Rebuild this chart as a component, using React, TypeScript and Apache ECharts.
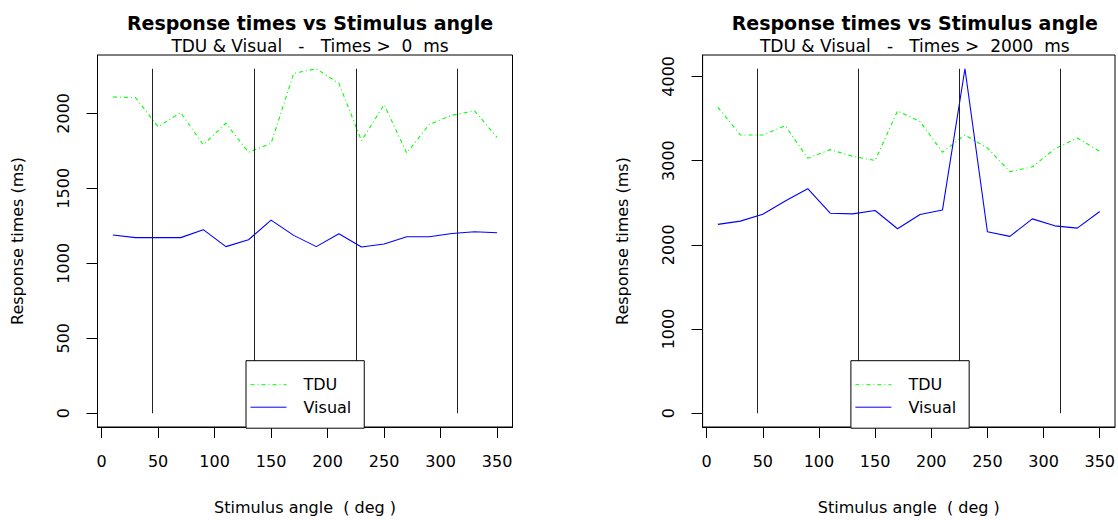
import React, { useEffect, useRef } from "react";
import * as echarts from "echarts";

// ---------- data ----------
const angles = [10, 30, 50, 70, 90, 110, 130, 150, 170, 190, 210, 230, 250, 270, 290, 310, 330, 350];

const tduAll = [2109, 2105, 1910, 2005, 1790, 1934, 1740, 1800, 2266, 2297, 2200, 1817, 2058, 1735, 1926, 1987, 2016, 1839];
const visualAll = [1189, 1171, 1171, 1171, 1224, 1111, 1157, 1288, 1186, 1111, 1197, 1109, 1129, 1177, 1177, 1199, 1210, 1204];

const tduOver2000 = [3634, 3304, 3304, 3414, 3028, 3130, 3051, 3001, 3591, 3464, 3099, 3304, 3150, 2867, 2926, 3138, 3268, 3110];
const visualOver2000 = [2242, 2281, 2363, 2520, 2666, 2375, 2367, 2407, 2190, 2360, 2414, 4090, 2155, 2100, 2308, 2225, 2198, 2395];

const xTicks = [0, 50, 100, 150, 200, 250, 300, 350];
const yTicksAll = [0, 500, 1000, 1500, 2000];
const yTicksOver2000 = [0, 1000, 2000, 3000, 4000];
const guideAngles = [45, 135, 225, 315];

const mainTitle = "Response times vs Stimulus angle";
const subTitles = ["TDU & Visual   -   Times >  0  ms", "TDU & Visual   -   Times >  2000  ms"];
const xName = "Stimulus angle  ( deg )";
const yName = "Response times (ms)";
const seriesNames = ["TDU", "Visual"];

// ---------- layout ----------
const FONT = "DejaVu Sans";
const GRIDS = [
  { left: 97.5, top: 55, width: 415, height: 374 },
  { left: 702.6, top: 55, width: 414.4, height: 374 },
];
const LEGEND_LEFT = [246, 850.9];

function buildOption() {
  const xMinData = Math.min(...angles);
  const xMaxData = Math.max(...angles);
  const xPad = (xMaxData - xMinData) * 0.04;

  const panels = [
    { tdu: tduAll, visual: visualAll, yTicks: yTicksAll, sub: subTitles[0] },
    { tdu: tduOver2000, visual: visualOver2000, yTicks: yTicksOver2000, sub: subTitles[1] },
  ];

  const title: any[] = [];
  const grid: any[] = [];
  const xAxis: any[] = [];
  const yAxis: any[] = [];
  const series: any[] = [];
  const legend: any[] = [];

  panels.forEach((p, i) => {
    const g = GRIDS[i];
    const yMax = Math.max(...p.tdu, ...p.visual);
    const yPad = yMax * 0.04;
    const cx = g.left + g.width / 2;

    title.push({
      text: mainTitle,
      subtext: p.sub,
      left: cx,
      textAlign: "center",
      top: 8,
      itemGap: 5,
      textStyle: { fontFamily: FONT, fontWeight: "bold", fontSize: 19, color: "#000" },
      subtextStyle: { fontFamily: FONT, fontSize: 17, color: "#000" },
    });

    grid.push({
      left: g.left,
      top: g.top,
      width: g.width,
      height: g.height,
      show: true,
      borderColor: "#000",
      borderWidth: 1,
      backgroundColor: "transparent",
      containLabel: false,
    });

    xAxis.push({
      type: "value",
      gridIndex: i,
      min: xMinData - xPad,
      max: xMaxData + xPad,
      axisLine: { show: true, onZero: false, lineStyle: { color: "#000", width: 1 } },
      axisTick: { show: true, length: 11, customValues: xTicks, lineStyle: { color: "#000", width: 1 } },
      axisLabel: {
        customValues: xTicks,
        margin: 26,
        fontFamily: FONT,
        fontSize: 16,
        color: "#000",
        formatter: (v: number) => String(v),
      },
      splitLine: { show: false },
      name: xName,
      nameLocation: "middle",
      nameGap: 72,
      nameTextStyle: { fontFamily: FONT, fontSize: 16, color: "#000" },
    });

    yAxis.push({
      type: "value",
      gridIndex: i,
      min: -yPad,
      max: yMax + yPad,
      axisLine: { show: true, onZero: false, lineStyle: { color: "#000", width: 1 } },
      axisTick: { show: true, length: 11, customValues: p.yTicks, lineStyle: { color: "#000", width: 1 } },
      axisLabel: {
        customValues: p.yTicks,
        rotate: 90,
        margin: 26,
        fontFamily: FONT,
        fontSize: 16,
        color: "#000",
        formatter: (v: number) => String(v),
      },
      splitLine: { show: false },
      name: yName,
      nameLocation: "middle",
      nameGap: 72,
      nameTextStyle: { fontFamily: FONT, fontSize: 16, color: "#000" },
    });

    series.push({
      type: "line",
      name: seriesNames[0],
      xAxisIndex: i,
      yAxisIndex: i,
      data: angles.map((a, k) => [a, p.tdu[k]]),
      symbol: "none",
      showSymbol: false,
      lineStyle: { color: "#00ff00", width: 1.1, type: [4, 3, 1, 3] },
      itemStyle: { color: "#00ff00" },
      silent: true,
      z: 3,
    });
    series.push({
      type: "line",
      name: seriesNames[1],
      xAxisIndex: i,
      yAxisIndex: i,
      data: angles.map((a, k) => [a, p.visual[k]]),
      symbol: "none",
      showSymbol: false,
      lineStyle: { color: "#0000ff", width: 1.1, type: "solid" },
      itemStyle: { color: "#0000ff" },
      silent: true,
      z: 3,
      markLine: {
        silent: true,
        symbol: ["none", "none"],
        label: { show: false },
        emphasis: { disabled: true },
        lineStyle: { color: "#222", width: 1, type: "solid" },
        data: guideAngles.map((a) => [{ coord: [a, 0] }, { coord: [a, yMax] }]),
      },
    });

    legend.push({
      orient: "vertical",
      left: LEGEND_LEFT[i],
      top: 360.7,
      data: seriesNames,
      selectedMode: false,
      itemWidth: 36,
      itemHeight: 18,
      itemGap: 4.5,
      padding: [15, 13, 12, 4],
      backgroundColor: "#fff",
      borderColor: "#000",
      borderWidth: 1,
      borderRadius: 0,
      z: 10,
      itemStyle: { opacity: 0, borderWidth: 0 },
      lineStyle: { width: 1 },
      textStyle: { fontFamily: FONT, fontSize: 16, color: "#000", padding: [0, 0, 0, 12], lineHeight: 18 },
    });
  });

  return {
    animation: false,
    backgroundColor: "#fff",
    title,
    grid,
    xAxis,
    yAxis,
    series,
    legend,
  };
}

export default function App() {
  const ref = useRef<HTMLDivElement>(null);
  useEffect(() => {
    const chart = echarts.init(ref.current!, null, { renderer: "svg" });
    chart.setOption(buildOption() as any);
    return () => chart.dispose();
  }, []);
  return (
    <div
      ref={ref}
      style={{ position: "absolute", left: 0, top: 0, width: 1118, height: 520, background: "#fff" }}
    />
  );
}
